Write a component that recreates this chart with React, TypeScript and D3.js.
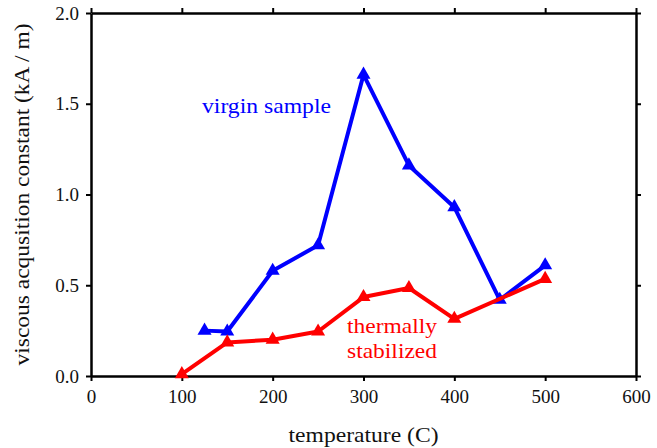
import { useEffect, useRef } from 'react';
import * as d3 from 'd3';

// virgin sample
const virginTemps = [125, 150, 200, 250, 300, 350, 400, 450, 500];
const virginValues = [0.25, 0.245, 0.58, 0.72, 1.66, 1.16, 0.93, 0.42, 0.61];

// thermally stabilized
const stabTemps = [100, 150, 200, 250, 300, 350, 400, 500];
const stabValues = [0.01, 0.185, 0.2, 0.245, 0.435, 0.485, 0.315, 0.535];

const xTicks = [0, 100, 200, 300, 400, 500, 600];
const yTicks = [0, 0.5, 1.0, 1.5, 2.0];

const FONT = '"Liberation Serif", "DejaVu Serif", serif';

const App = () => {
  const chartRef = useRef<SVGSVGElement>(null);

  useEffect(() => {
    const svg = d3.select(chartRef.current);
    svg.selectAll('*').remove();

    const margin = { top: 13, right: 21, bottom: 72, left: 91 };
    const W = 657, H = 448;
    const width = W - margin.left - margin.right;
    const height = H - margin.top - margin.bottom;

    const x = d3.scaleLinear().domain([0, 600]).range([margin.left, margin.left + width]);
    const y = d3.scaleLinear().domain([0, 2]).range([margin.top + height, margin.top]);

    const g = svg.append('g');

    // frame with outward ticks on all four sides
    const axisStyle = (sel: any) => {
      sel.select('.domain').attr('stroke', '#000').attr('stroke-width', 2.5);
      sel.selectAll('.tick line').attr('stroke', '#000').attr('stroke-width', 2);
      sel.selectAll('text').attr('font-family', FONT).attr('font-size', 19).attr('fill', '#111');
    };

    g.append('g')
      .attr('transform', `translate(0,${y(0)})`)
      .call(d3.axisBottom(x).tickValues(xTicks).tickSize(5).tickPadding(9).tickSizeOuter(0).tickFormat(d3.format('d')))
      .call(axisStyle);
    g.append('g')
      .attr('transform', `translate(0,${y(2)})`)
      .call(d3.axisTop(x).tickValues(xTicks).tickSize(5).tickSizeOuter(0).tickFormat(() => ''))
      .call(axisStyle);
    g.append('g')
      .attr('transform', `translate(${x(0)},0)`)
      .call(d3.axisLeft(y).tickValues(yTicks).tickSize(5).tickPadding(7).tickSizeOuter(0).tickFormat(d3.format('.1f')))
      .call(axisStyle);
    g.append('g')
      .attr('transform', `translate(${x(600)},0)`)
      .call(d3.axisRight(y).tickValues(yTicks).tickSize(5).tickSizeOuter(0).tickFormat(() => ''))
      .call(axisStyle);

    const line = d3.line<[number, number]>().x((d) => x(d[0])).y((d) => y(d[1]));
    const tri = d3.symbol().type(d3.symbolTriangle).size(85)();

    const drawSeries = (temps: number[], vals: number[], color: string) => {
      const pts = temps.map((t, i) => [t, vals[i]] as [number, number]);
      g.append('path')
        .attr('d', line(pts))
        .attr('fill', 'none')
        .attr('stroke', color)
        .attr('stroke-width', 4)
        .attr('stroke-linejoin', 'round');
      g.selectAll(null)
        .data(pts)
        .enter()
        .append('path')
        .attr('d', tri)
        .attr('transform', (d) => `translate(${x(d[0])},${y(d[1])})`)
        .attr('fill', color);
    };

    drawSeries(virginTemps, virginValues, '#0000ff');
    drawSeries(stabTemps, stabValues, '#ff0000');

    const label = (sel: any, len: number) =>
      sel.attr('font-family', FONT).attr('font-size', 22)
        .attr('textLength', len).attr('lengthAdjust', 'spacingAndGlyphs');

    // series labels
    g.append('text')
      .attr('x', 202).attr('y', 113)
      .attr('fill', '#0000ff')
      .call(label, 129)
      .text('virgin sample');
    g.append('text').attr('x', 347).attr('y', 333)
      .attr('fill', '#ff0000').call(label, 90).text('thermally');
    g.append('text').attr('x', 347).attr('y', 358)
      .attr('fill', '#ff0000').call(label, 90).text('stabilized');

    // axis titles
    g.append('text')
      .attr('x', x(300)).attr('y', 442)
      .attr('text-anchor', 'middle')
      .attr('fill', '#111')
      .call(label, 150)
      .text('temperature (C)');
    g.append('text')
      .attr('transform', `translate(29,${y(1)}) rotate(-90)`)
      .attr('text-anchor', 'middle')
      .attr('fill', '#111')
      .call(label, 342)
      .text('viscous acqusition constant (kA / m)');

    return () => { svg.selectAll('*').remove(); };
  }, []);

  return (
    <div style={{ position: 'absolute', left: 0, top: 0, width: 657, height: 448 }}>
      <svg ref={chartRef} width={657} height={448} style={{ display: 'block', background: '#fff' }}></svg>
    </div>
  );
};

export default App;
